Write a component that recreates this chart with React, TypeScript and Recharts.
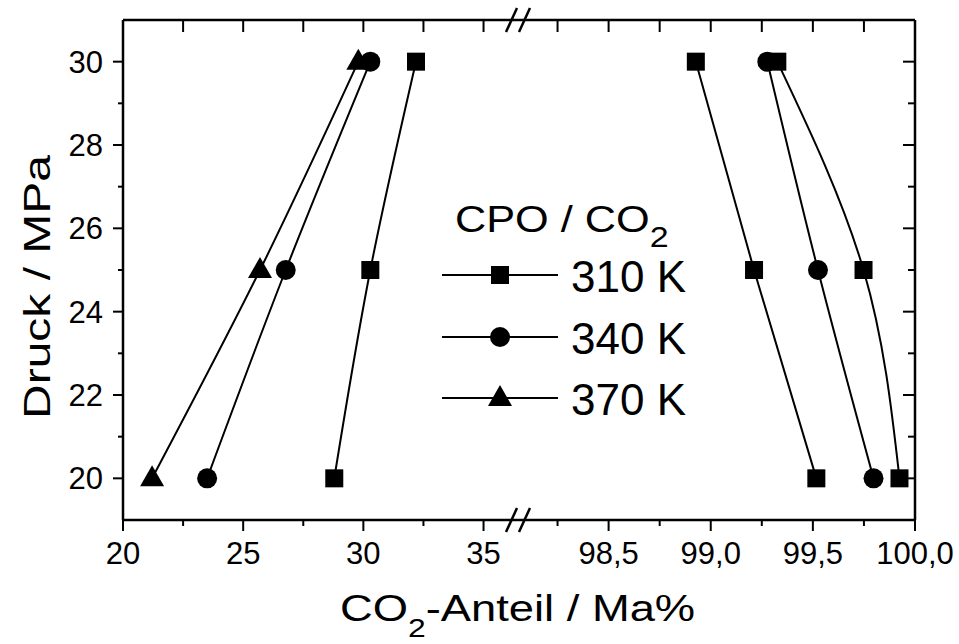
import { Line, LineChart, XAxis, YAxis } from 'recharts'

// Pressure levels (MPa) at which both phases were sampled
const PRESSURE = [20, 25, 30]

// CO2 share in the liquid (CPO-rich) phase, Ma%
const LIQ_310 = [28.79, 30.29, 32.19]
const LIQ_340 = [23.5, 26.77, 30.29]
const LIQ_370 = [21.21, 25.7, 29.79]

// CO2 share in the vapour (CO2-rich) phase, Ma%
const VAP_310 = [99.924, 99.748, 99.326]
const VAP_340 = [99.797, 99.525, 99.277]
const VAP_370 = [99.517, 99.212, 98.927]

const LEFT_TICKS = [20, 25, 30, 35]
const LEFT_MINOR = [22.5, 27.5, 32.5]
const RIGHT_TICKS = [98.5, 99, 99.5, 100]
const RIGHT_MINOR = [98.25, 98.75, 99.25, 99.75]
const P_TICKS = [20, 22, 24, 26, 28, 30]
const P_MINOR = [21, 23, 25, 27, 29]
const LEGEND_LABELS = ['310 K', '340 K', '370 K']

const leftRows = PRESSURE.map((p, i) => ({ p, k310: LIQ_310[i], k340: LIQ_340[i], k370: LIQ_370[i] }))
const rightRows = PRESSURE.map((p, i) => ({ p, k310: VAP_310[i], k340: VAP_340[i], k370: VAP_370[i] }))

// layout of the broken x axis: both halves share the same pressure scale
const W = 959
const H = 644
const TOP = 20
const X_AXIS_H = 124
const Y_AXIS_W = 123
const BREAK_X = 522
const PLOT_RIGHT = 915
const LEFT_DOMAIN: [number, number] = [20, 36.6]
const RIGHT_DOMAIN: [number, number] = [98.076, 100]
const P_DOMAIN: [number, number] = [19, 31]

const AXIS_LINE = { stroke: '#000', strokeWidth: 2.5 }
const TICK_LINE = { stroke: '#000', strokeWidth: 2 }
const TICK_TEXT = { fontSize: 31, fill: '#000' }
const blank = () => ''
const comma = (v: number) => v.toFixed(1).replace('.', ',')

type DotProps = { cx?: number; cy?: number }

function SquareDot({ cx = 0, cy = 0 }: DotProps) {
  return <rect x={cx - 9} y={cy - 9} width={18} height={18} fill="#000" />
}

function CircleDot({ cx = 0, cy = 0 }: DotProps) {
  return <circle cx={cx} cy={cy} r={10} fill="#000" />
}

function TriangleDot({ cx = 0, cy = 0 }: DotProps) {
  return <path d={`M${cx},${cy - 13}L${cx + 12},${cy + 8}L${cx - 12},${cy + 8}Z`} fill="#000" />
}

const LINE = { type: 'natural' as const, stroke: '#000', strokeWidth: 2, isAnimationActive: false }

// mirrored helper axes take no room in the layout; size 1 keeps them rendered
function LiquidChart() {
  return (
    <LineChart
      layout="vertical"
      width={W}
      height={H}
      data={leftRows}
      margin={{ top: TOP, right: W - BREAK_X, bottom: 0, left: 0 }}
    >
      <XAxis xAxisId="minor" type="number" domain={LEFT_DOMAIN} allowDataOverflow mirror height={1}
        ticks={LEFT_MINOR} interval={0} tickSize={-6} tickFormatter={blank} axisLine={false} tickLine={TICK_LINE} />
      <XAxis xAxisId="main" type="number" domain={LEFT_DOMAIN} allowDataOverflow height={X_AXIS_H}
        ticks={LEFT_TICKS} interval={0} tickSize={11} tickMargin={11} axisLine={AXIS_LINE} tickLine={TICK_LINE} tick={TICK_TEXT} />
      <XAxis xAxisId="top" orientation="top" type="number" domain={LEFT_DOMAIN} allowDataOverflow mirror height={1}
        ticks={[...LEFT_TICKS, ...LEFT_MINOR]} interval={0} tickSize={12} tickFormatter={blank} axisLine={AXIS_LINE} tickLine={TICK_LINE} />
      <YAxis yAxisId="minor" type="number" dataKey="p" domain={P_DOMAIN} allowDataOverflow reversed mirror width={1}
        ticks={P_MINOR} interval={0} tickSize={-5} tickFormatter={blank} axisLine={false} tickLine={TICK_LINE} />
      <YAxis yAxisId="main" type="number" dataKey="p" domain={P_DOMAIN} allowDataOverflow reversed width={Y_AXIS_W}
        ticks={P_TICKS} interval={0} tickSize={10} tickMargin={10} axisLine={AXIS_LINE} tickLine={TICK_LINE} tick={TICK_TEXT} />
      <Line {...LINE} xAxisId="main" yAxisId="main" dataKey="k310" dot={<SquareDot />} />
      <Line {...LINE} xAxisId="main" yAxisId="main" dataKey="k340" dot={<CircleDot />} />
      <Line {...LINE} xAxisId="main" yAxisId="main" dataKey="k370" dot={<TriangleDot />} />
    </LineChart>
  )
}

function VapourChart() {
  return (
    <LineChart
      layout="vertical"
      width={W}
      height={H}
      data={rightRows}
      margin={{ top: TOP, right: W - PLOT_RIGHT, bottom: 0, left: BREAK_X }}
    >
      <XAxis xAxisId="minor" type="number" domain={RIGHT_DOMAIN} allowDataOverflow mirror height={1}
        ticks={RIGHT_MINOR} interval={0} tickSize={-6} tickFormatter={blank} axisLine={false} tickLine={TICK_LINE} />
      <XAxis xAxisId="main" type="number" domain={RIGHT_DOMAIN} allowDataOverflow height={X_AXIS_H}
        ticks={RIGHT_TICKS} interval={0} tickSize={11} tickMargin={11} tickFormatter={comma}
        axisLine={AXIS_LINE} tickLine={TICK_LINE} tick={TICK_TEXT} />
      <XAxis xAxisId="top" orientation="top" type="number" domain={RIGHT_DOMAIN} allowDataOverflow mirror height={1}
        ticks={[...RIGHT_MINOR, ...RIGHT_TICKS]} interval={0} tickSize={12} tickFormatter={blank} axisLine={AXIS_LINE} tickLine={TICK_LINE} />
      <YAxis yAxisId="minor" orientation="right" type="number" dataKey="p" domain={P_DOMAIN} allowDataOverflow reversed mirror width={1}
        ticks={P_MINOR} interval={0} tickSize={6} tickFormatter={blank} axisLine={false} tickLine={TICK_LINE} />
      <YAxis yAxisId="main" orientation="right" type="number" dataKey="p" domain={P_DOMAIN} allowDataOverflow reversed mirror width={1}
        ticks={P_TICKS} interval={0} tickSize={12} tickFormatter={blank} axisLine={AXIS_LINE} tickLine={TICK_LINE} />
      <Line {...LINE} xAxisId="main" yAxisId="main" dataKey="k310" dot={<SquareDot />} />
      <Line {...LINE} xAxisId="main" yAxisId="main" dataKey="k340" dot={<CircleDot />} />
      {/* the 370 K vapour branch is plotted with squares as well */}
      <Line {...LINE} xAxisId="main" yAxisId="main" dataKey="k370" dot={<SquareDot />} />
    </LineChart>
  )
}

const LEGEND_MARKERS = [SquareDot, CircleDot, TriangleDot]
const LEGEND_ROWS = [275, 337, 398]

function Annotations() {
  const breakY = [TOP, H - X_AXIS_H]
  return (
    <svg width={W} height={H} style={{ position: 'absolute', left: 0, top: 0, pointerEvents: 'none' }}>
      {/* axis break marks */}
      {breakY.map((y) => (
        <g key={y} stroke="#000" strokeWidth={2.5}>
          <line x1={506} y1={y + 12} x2={517} y2={y - 12} />
          <line x1={519} y1={y + 12} x2={530} y2={y - 12} />
        </g>
      ))}

      {/* axis titles */}
      <g transform="translate(340,621) scale(1.225,1)">
        <text fontSize={37} fill="#000">
          CO<tspan fontSize={26} dy={16}>2</tspan>
          <tspan dy={-16}>-Anteil / Ma%</tspan>
        </text>
      </g>
      <g transform="translate(50,287) rotate(-90) scale(1.28,1)">
        <text fontSize={37.5} fill="#000" textAnchor="middle">Druck / MPa</text>
      </g>

      {/* legend */}
      <g transform="translate(455,232) scale(1.17,1)">
        <text fontSize={37} fill="#000">
          CPO / CO<tspan fontSize={29} dy={15}>2</tspan>
        </text>
      </g>
      {LEGEND_LABELS.map((label, i) => {
        const Marker = LEGEND_MARKERS[i]
        const y = LEGEND_ROWS[i]
        return (
          <g key={label}>
            <line x1={442} y1={y} x2={558} y2={y} stroke="#000" strokeWidth={2} />
            <Marker cx={500} cy={y} />
            <text x={571} y={y + 17} fontSize={44} fill="#000">{label}</text>
          </g>
        )
      })}
    </svg>
  )
}

export default function App() {
  return (
    <div
      style={{
        position: 'absolute',
        left: 0,
        top: 0,
        width: W,
        height: H,
        background: '#fff',
        fontFamily: '"Liberation Sans", Arial, sans-serif',
      }}
    >
      <div style={{ position: 'absolute', left: 0, top: 0 }}>
        <LiquidChart />
      </div>
      <div style={{ position: 'absolute', left: 0, top: 0 }}>
        <VapourChart />
      </div>
      <Annotations />
    </div>
  )
}
